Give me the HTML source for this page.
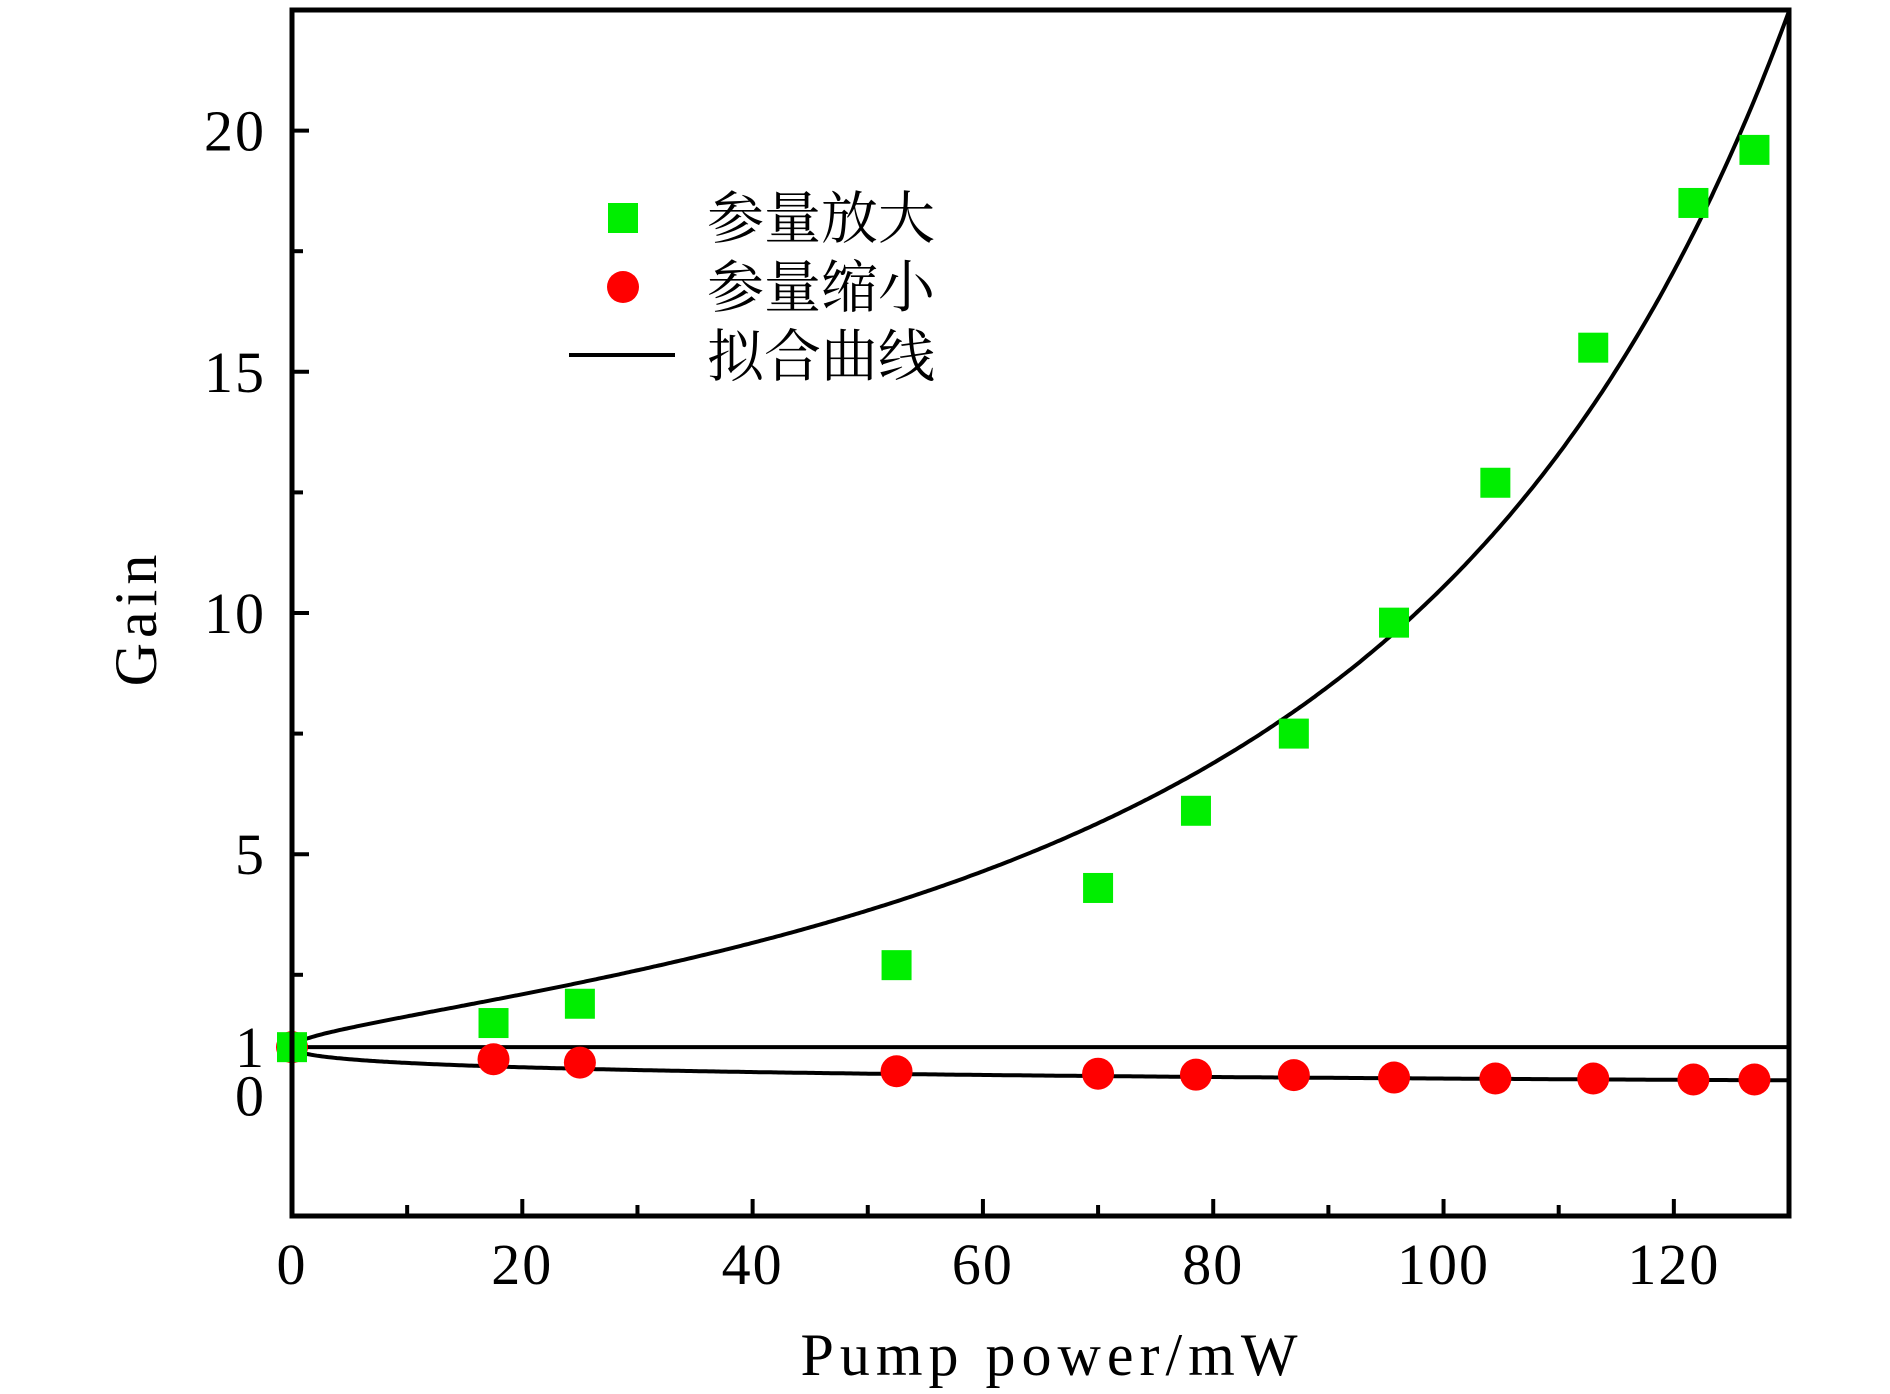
<!DOCTYPE html>
<html><head><meta charset="utf-8"><style>
body{margin:0;background:#fff}
svg{display:block}
text{font-family:"Liberation Serif","Noto Serif CJK SC",serif;fill:#000}
</style></head><body>
<svg id="chart" width="1890" height="1394" viewBox="0 0 1890 1394">
<g id="plot"></g>
<text x="1052" y="1375" text-anchor="middle" font-size="60" letter-spacing="6">Pump power/mW</text>
<text transform="translate(156,618) rotate(-90)" text-anchor="middle" font-size="60" letter-spacing="5">Gain</text>
<g>
<rect x="608" y="203" width="30" height="30" fill="#00ee00"/>
<circle cx="623" cy="287" r="16" fill="#ff0000"/>
<line x1="569" y1="355" x2="675" y2="355" stroke="#000" stroke-width="4"/>
<text x="707" y="238" font-size="57">参量放大</text>
<text x="707" y="307" font-size="57">参量缩小</text>
<text x="707" y="376" font-size="57">拟合曲线</text>
</g>
</svg>
<script>
const pumpPower=[0,17.5,25,52.5,70,78.5,87,95.7,104.5,113,121.7,127];
const ampGain=[1,1.5,1.9,2.7,4.3,5.9,7.5,9.8,12.7,15.5,18.5,19.6];
const deampGain=[1,0.75,0.68,0.5,0.45,0.43,0.42,0.37,0.35,0.35,0.33,0.33];
const thresholdPower=[208.8];
const xTicks=[0,20,40,60,80,100,120];
const yTicks=[0,5,10,15,20];
const yLabelOnly=[1];
const L=292,R=1789,T=10,B=1216,xmin=0,xmax=130,ymin=-2.5,ymax=22.5;
const sx=v=>L+(v-xmin)/(xmax-xmin)*(R-L);
const sy=v=>B-(v-ymin)/(ymax-ymin)*(B-T);
const NS='http://www.w3.org/2000/svg';
const g=document.getElementById('plot');
function mk(tag,attrs){const e=document.createElementNS(NS,tag);for(const k in attrs)e.setAttribute(k,attrs[k]);g.appendChild(e);return e;}
const pth=thresholdPower[0];
let up='',dn='';
for(let i=0;i<=600;i++){const p=xmax*i/600;const s=Math.sqrt(p/pth);const gu=1/((1-s)*(1-s)),gd=1/((1+s)*(1+s));
 if(gu<=ymax+0.5) up+=(up?'L':'M')+sx(p).toFixed(1)+','+sy(Math.min(gu,ymax+0.5)).toFixed(1);
 dn+=(dn?'L':'M')+sx(p).toFixed(1)+','+sy(gd).toFixed(1);}
let e=mk('path',{d:up,fill:'none',stroke:'#000','stroke-width':4});


e=mk('path',{d:dn,fill:'none',stroke:'#000','stroke-width':4});


e=mk('line',{x1:sx(0),x2:R,y1:sy(1),y2:sy(1),stroke:'#000','stroke-width':4});


pumpPower.forEach((p,i)=>{
 let c=mk('circle',{cx:sx(p),cy:sy(deampGain[i]),r:16,fill:'#ff0000'});
 
 
});
pumpPower.forEach((p,i)=>{
 let r=mk('rect',{x:sx(p)-15,y:sy(ampGain[i])-15,width:30,height:30,fill:'#00ee00'});
 
 
});
e=mk('rect',{x:L,y:T,width:R-L,height:B-T,fill:'none',stroke:'#000','stroke-width':5});


for(let v=10;v<xmax;v+=10){const major=v%20===0;
 let t=mk('line',{x1:sx(v),x2:sx(v),y1:B,y2:B-(major?17:11),stroke:'#000','stroke-width':4});
 
 }
xTicks.forEach(v=>{let t=mk('text',{x:sx(v),y:1284,'text-anchor':'middle','font-size':58,'letter-spacing':2});t.textContent=v;
 
 });
for(let v=2.5;v<ymax;v+=2.5){const major=v%5===0;
 let t=mk('line',{x1:L,x2:L+(major?17:11),y1:sy(v),y2:sy(v),stroke:'#000','stroke-width':4});
 
 }
yTicks.concat(yLabelOnly).forEach(v=>{let t=mk('text',{x:266,y:sy(v)+20,'text-anchor':'end','font-size':58,'letter-spacing':2});t.textContent=v;
 
 });
</script>
</body></html>
